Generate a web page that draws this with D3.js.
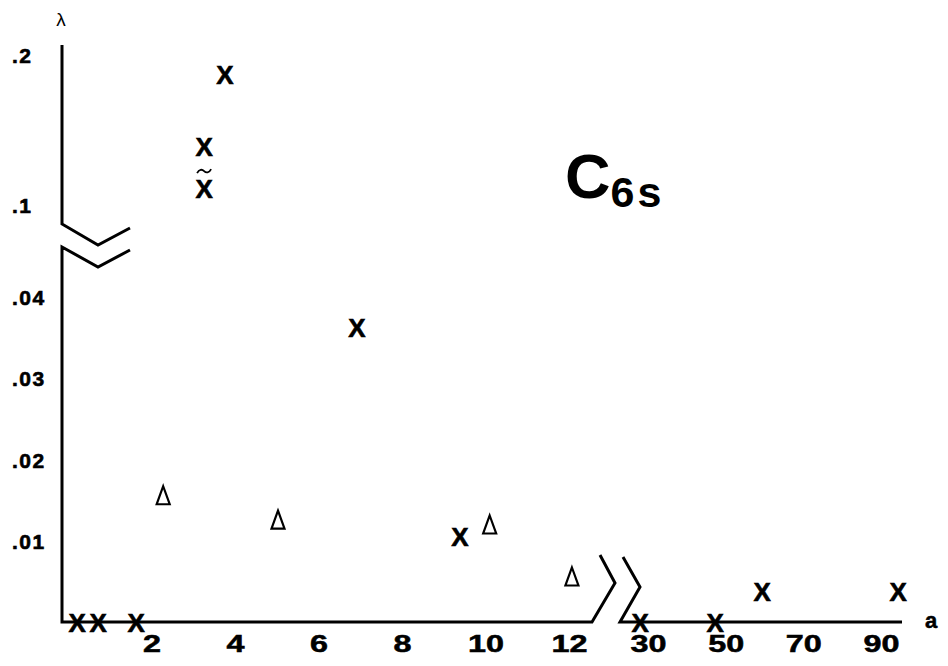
<!DOCTYPE html>
<html><head><meta charset="utf-8">
<script src="https://cdn.jsdelivr.net/npm/d3@7"></script>
<style>
body{margin:0;background:#fff;}
svg{display:block;}
text{font-family:"Liberation Sans",Arial,sans-serif;}
</style></head>
<body><svg id="c" width="948" height="666"></svg>
<script>
// ---- data ----
const yTicksLow = [0.01, 0.02, 0.03, 0.04];
const yTickLabelsLow = [".01", ".02", ".03", ".04"];
const yTicksHigh = [0.1, 0.2];
const yTickLabelsHigh = [".1", ".2"];
const xTicksNear = [2, 4, 6, 8, 10, 12];
const xTicksFar = [30, 50, 70, 90];
// X markers on the lower (0-0.045) λ scale, near a-scale
const crossLowA = [0.22, 0.72, 1.63, 6.92, 9.39];
const crossLowL = [0, 0, 0, 0.0362, 0.0105];
// X markers on the upper (0.1-0.2) λ scale
const crossHighA = [3.76, 3.26];
const crossHighL = [0.1873, 0.1393];
// X-tilde marker (upper scale)
const tildeA = [3.26];
const tildeL = [0.1113];
// triangle markers (lower scale)
const triA = [2.28, 5.03, 10.1, 12.07];
const triL = [0.0156, 0.0126, 0.0120, 0.0056];
// X markers on the far a-scale (30-90)
const crossFarA = [28, 47.3, 59.4, 94.4];
const crossFarL = [0, 0, 0.0038, 0.0038];

// ---- scales ----
const xNear = d3.scaleLinear().domain([0, 12]).range([68, 569]);
const xFar = d3.scaleLinear().domain([30, 90]).range([648, 881]);
const yLow = d3.scaleLinear().domain([0, 0.04]).range([622, 297]);
const yHigh = d3.scaleLinear().domain([0.1, 0.2]).range([205, 55]);

const svg = d3.select("#c");
const axisX = 62, baseY = 622;
const ink = "#000";

// ---- axis lines with breaks ----
const g = svg.append("g").attr("fill", "none").attr("stroke", ink).attr("stroke-width", 3).attr("stroke-linejoin", "miter");
g.append("path").attr("d", `M${axisX},45 L${axisX},224 L98,245 L130,228`);
g.append("path").attr("d", `M130,250 L98,267 L${axisX},247 L${axisX},${baseY} L592,${baseY} L615,583 L600,555`);
g.append("path").attr("d", `M623,557 L640,587 L620,${baseY} L902,${baseY}`);

// ---- tick labels ----
function yAxis(scale, vals, labels) {
  const ax = d3.axisLeft(scale).tickValues(vals).tickSize(0).tickPadding(0).tickFormat((d, i) => labels[i]);
  const a = svg.append("g").attr("transform", `translate(12,0)`)
    .attr("font-size", 21).attr("font-weight", "bold")
    .attr("font-family", "Liberation Sans, Arial, sans-serif").call(ax);
  a.attr("font-size", 21).attr("text-anchor", "start");
  a.select(".domain").remove();
  a.selectAll(".tick text").attr("x", 0).attr("dy", "0.36em")
    .style("font-size", "21px").style("text-anchor", "start")
    .attr("fill", ink).attr("stroke", ink).attr("stroke-width", 0.6)
    .attr("letter-spacing", "1.5px");
}
yAxis(yLow, yTicksLow, yTickLabelsLow);
yAxis(yHigh, yTicksHigh, yTickLabelsHigh);

function xAxis(scale, vals) {
  const ax = d3.axisBottom(scale).tickValues(vals).tickSize(0).tickFormat(d3.format("d"));
  const a = svg.append("g").attr("transform", `translate(0,${baseY})`).call(ax);
  a.select(".domain").remove();
  a.selectAll("text").attr("y", 30).attr("dy", 0)
    .attr("font-size", 23).attr("font-weight", "bold").attr("font-family", "Liberation Sans, Arial, sans-serif")
    .attr("fill", ink).attr("stroke", ink).attr("stroke-width", 0.5)
    .attr("textLength", (d) => String(d).length * 18)
    .attr("lengthAdjust", "spacingAndGlyphs");
}
xAxis(xNear, xTicksNear);
xAxis(xFar, xTicksFar);

// axis titles
svg.append("text").attr("x", 61).attr("y", 26).attr("text-anchor", "middle")
  .attr("font-size", 19).attr("font-family", "DejaVu Sans, sans-serif").text("λ");
svg.append("text").attr("x", 931).attr("y", 628).attr("text-anchor", "middle")
  .attr("font-size", 22).attr("font-weight", "bold").attr("stroke", ink).attr("stroke-width", 0.5).text("a");

// C6s label
const lab = svg.append("text").attr("x", 565).attr("y", 198).attr("font-weight", "bold").attr("fill", ink);
lab.append("tspan").attr("font-size", 63).text("C");
lab.append("tspan").attr("font-size", 43).attr("dy", 9).attr("letter-spacing", "3px").text("6s");

// ---- markers ----
function crosses(xs, as, ls, ys) {
  svg.append("g").selectAll("text").data(as).join("text")
    .attr("x", (d) => xs(d)).attr("y", (d, i) => ys(ls[i]) + 9.5)
    .attr("text-anchor", "middle").attr("font-size", 26).attr("font-weight", "bold")
    .attr("fill", ink).attr("stroke", ink).attr("stroke-width", 0.6).text("X");
}
crosses(xNear, crossLowA, crossLowL, yLow);
crosses(xNear, crossHighA, crossHighL, yHigh);
crosses(xNear, tildeA, tildeL, yHigh);
crosses(xFar, crossFarA, crossFarL, yLow);
// tilde over X-tilde
svg.append("g").selectAll("path").data(tildeA).join("path")
  .attr("transform", (d, i) => `translate(${xNear(d)},${yHigh(tildeL[i]) - 17})`)
  .attr("d", "M-7,2 C-5,-2 -2,-2 0,0 C2,2 5,2 7,-2")
  .attr("fill", "none").attr("stroke", ink).attr("stroke-width", 1.8);

// triangles
svg.append("g").selectAll("path").data(triA).join("path")
  .attr("transform", (d, i) => `translate(${xNear(d)},${yLow(triL[i])})`)
  .attr("d", "M0,-9 L6.5,9 L-6.5,9 Z")
  .attr("fill", "none").attr("stroke", ink).attr("stroke-width", 2.2).attr("stroke-linejoin", "miter");
</script></body></html>
